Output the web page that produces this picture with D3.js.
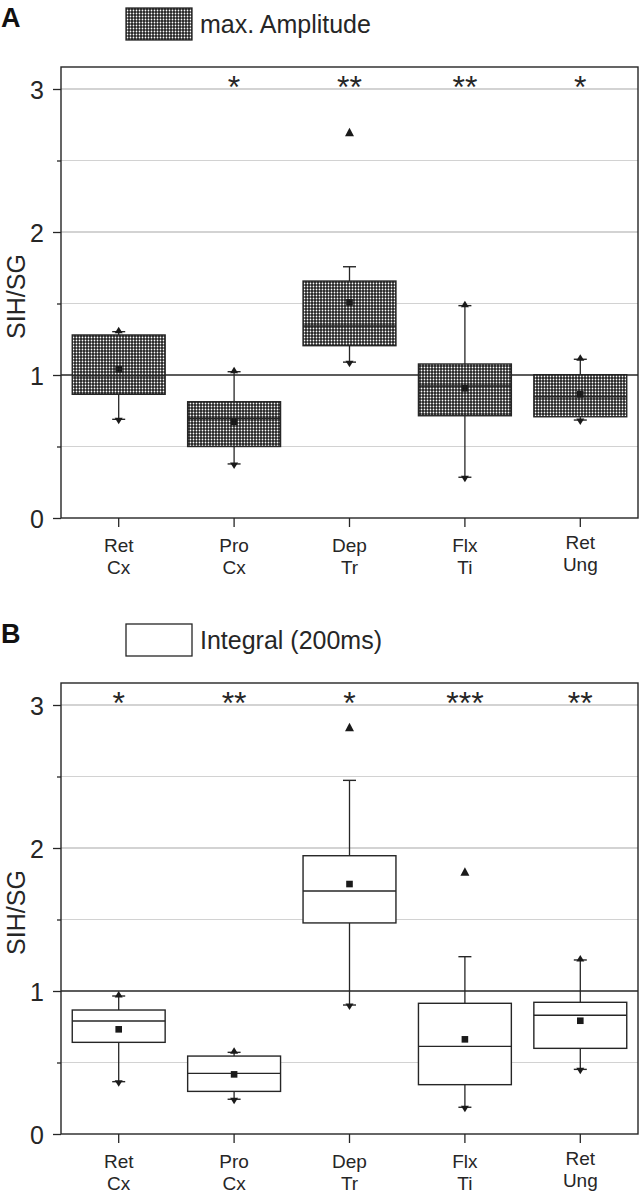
<!DOCTYPE html>
<html>
<head>
<meta charset="utf-8">
<script src="https://cdn.jsdelivr.net/npm/d3@7"></script>
<style>
  html, body { margin: 0; padding: 0; background: #fff; }
  svg { display: block; font-family: "Liberation Sans", Arial, Helvetica, sans-serif; }
</style>
</head>
<body>
<svg id="chart" width="639" height="1195"></svg>
<script>
// ---- data ----
const categories = ["Ret Cx", "Pro Cx", "Dep Tr", "Flx Ti", "Ret Ung"];
const yTicks = [0, 1, 2, 3];
const yMinorTicks = [0.5, 1.5, 2.5];

// Panel A: max. Amplitude
const ampQ1      = [0.865, 0.500, 1.205, 0.715, 0.708];
const ampMedian  = [0.995, 0.697, 1.343, 0.923, 0.848];
const ampQ3      = [1.280, 0.813, 1.657, 1.077, 1.002];
const ampMean    = [1.040, 0.673, 1.508, 0.907, 0.865];
const ampLow     = [0.690, 0.378, 1.090, 0.285, 0.685];
const ampHigh    = [1.303, 1.023, 1.757, 1.485, 1.110];
const ampOutlier = [null, null, 2.697, null, null];
const ampSig     = ["", "*", "**", "**", "*"];

// Panel B: Integral (200ms)
const intQ1      = [0.641, 0.298, 1.476, 0.345, 0.599];
const intMedian  = [0.790, 0.424, 1.699, 0.613, 0.830];
const intQ3      = [0.867, 0.545, 1.946, 0.914, 0.921];
const intMean    = [0.732, 0.417, 1.748, 0.662, 0.792];
const intLow     = [0.366, 0.243, 0.902, 0.187, 0.452];
const intHigh    = [0.965, 0.571, 2.473, 1.240, 1.217];
const intOutlier = [null, null, 2.844, 1.834, null];
const intSig     = ["*", "**", "*", "***", "**"];

const svg = d3.select("#chart");
const ink = "#262626";

// hatch pattern
const defs = svg.append("defs");
const pat = defs.append("pattern").attr("id", "hatch")
  .attr("patternUnits", "userSpaceOnUse").attr("width", 3).attr("height", 3);
pat.append("rect").attr("width", 3).attr("height", 3).attr("fill", "#222");
pat.append("circle").attr("cx", 1.5).attr("cy", 1.5).attr("r", 0.9).attr("fill", "#fff");

const left = 61, right = 638;
const x = d3.scaleBand().domain(categories).range([left, right]).paddingInner(0).paddingOuter(0);
const boxW = x.bandwidth() * 0.805;

function panel(opts) {
  const { top, bottom, letter, letterY, legendText, legendY, fill,
          q1, med, q3, mean, lo, hi, out, sig } = opts;
  const y = d3.scaleLinear().domain([0, 3 + 22 / 143]).range([bottom, top]);
  const g = svg.append("g");

  // grid lines
  g.selectAll(".minor").data(yMinorTicks).join("line")
    .attr("x1", left).attr("x2", right)
    .attr("y1", d => y(d)).attr("y2", d => y(d))
    .attr("stroke", "#d2d2d2").attr("stroke-width", 1.2);
  g.selectAll(".major").data(yTicks.filter(d => d > 1)).join("line")
    .attr("x1", left).attr("x2", right)
    .attr("y1", d => y(d)).attr("y2", d => y(d))
    .attr("stroke", "#a8a8a8").attr("stroke-width", 1.2);

  // y axis
  const yAxis = d3.axisLeft(y).tickValues(yTicks).tickSize(8).tickPadding(0).tickFormat(d3.format("d"));
  const ya = g.append("g").attr("transform", `translate(${left},0)`).call(yAxis);
  ya.select(".domain").remove();
  ya.selectAll(".tick line").attr("stroke", ink).attr("stroke-width", 1.3);
  ya.selectAll(".tick text").attr("x", -17).attr("dy", "0.36em")
    .attr("font-size", 25).attr("fill", ink).attr("font-family", "Liberation Sans, Arial, sans-serif");
  const yMinorAxis = d3.axisLeft(y).tickValues(yMinorTicks).tickSize(4).tickFormat("");
  const ym = g.append("g").attr("transform", `translate(${left},0)`).call(yMinorAxis);
  ym.select(".domain").remove();
  ym.selectAll(".tick line").attr("stroke", ink).attr("stroke-width", 1.3);

  // x axis ticks
  const xAxis = d3.axisBottom(x).tickSize(9).tickFormat("");
  const xa = g.append("g").attr("transform", `translate(0,${bottom})`).call(xAxis);
  xa.select(".domain").remove();
  xa.selectAll(".tick line").attr("stroke", ink).attr("stroke-width", 1.3);
  // two-line labels
  const lab = g.selectAll(".xlab").data(categories).join("text")
    .attr("text-anchor", "middle").attr("font-size", 19).attr("fill", ink)
    .attr("transform", d => `translate(${x(d) + x.bandwidth() / 2},${bottom + 34 - (d === "Ret Ung" ? 3 : 0)})`);
  lab.append("tspan").attr("x", 0).attr("y", 0).text(d => d.split(" ")[0]);
  lab.append("tspan").attr("x", 0).attr("y", 22).text(d => d.split(" ")[1]);

  // y axis title
  g.append("text").attr("transform", `translate(25,${(top + bottom) / 2 + 4}) rotate(-90)`)
    .attr("text-anchor", "middle").attr("font-size", 25).attr("fill", ink).text("SIH/SG");

  // reference line at 1
  g.append("line").attr("x1", left).attr("x2", right)
    .attr("y1", y(1)).attr("y2", y(1)).attr("stroke", ink).attr("stroke-width", 1.4);

  const idx = d3.range(categories.length);
  const cx = i => x(categories[i]) + x.bandwidth() / 2;

  // whiskers
  g.selectAll(".wh").data(idx).join("line")
    .attr("x1", cx).attr("x2", cx)
    .attr("y1", i => y(hi[i])).attr("y2", i => y(q3[i]))
    .attr("stroke", ink).attr("stroke-width", 1.3);
  g.selectAll(".wl").data(idx).join("line")
    .attr("x1", cx).attr("x2", cx)
    .attr("y1", i => y(q1[i])).attr("y2", i => y(lo[i]))
    .attr("stroke", ink).attr("stroke-width", 1.3);

  // boxes
  g.selectAll(".box").data(idx).join("rect")
    .attr("x", i => cx(i) - boxW / 2).attr("width", boxW)
    .attr("y", i => y(q3[i])).attr("height", i => y(q1[i]) - y(q3[i]))
    .attr("fill", fill).attr("stroke", ink).attr("stroke-width", 1.4);
  // medians
  g.selectAll(".med").data(idx).join("line")
    .attr("x1", i => cx(i) - boxW / 2).attr("x2", i => cx(i) + boxW / 2)
    .attr("y1", i => y(med[i])).attr("y2", i => y(med[i]))
    .attr("stroke", ink).attr("stroke-width", 1.4);
  // means
  g.selectAll(".mean").data(idx).join("rect")
    .attr("x", i => cx(i) - 3.3).attr("y", i => y(mean[i]) - 3.3)
    .attr("width", 6.6).attr("height", 6.6).attr("fill", "#1a1a1a");

  // whisker ends
  function endMark(i, v, dir, plain) {
    const X = cx(i), Y = y(v);
    g.append("line").attr("x1", X - 6.5).attr("x2", X + 6.5).attr("y1", Y).attr("y2", Y)
      .attr("stroke", ink).attr("stroke-width", 1.4);
    if (!plain) {
      g.append("path")
        .attr("d", `M${X - 4},${Y - dir * 1.5} L${X + 4},${Y - dir * 1.5} L${X},${Y + dir * 5} Z`)
        .attr("fill", "#1a1a1a");
    }
  }
  idx.forEach(i => {
    endMark(i, hi[i], -1, out[i] != null);
    endMark(i, lo[i], 1, false);
  });

  // outliers
  g.selectAll(".out").data(idx.filter(i => out[i] != null)).join("path")
    .attr("d", i => { const X = cx(i), Y = y(out[i]); return `M${X - 4.5},${Y + 4} L${X + 4.5},${Y + 4} L${X},${Y - 4.5} Z`; })
    .attr("fill", "#1a1a1a");

  // significance stars
  g.selectAll(".sig").data(idx).join("text")
    .attr("x", cx).attr("y", y(3) + 9)
    .attr("text-anchor", "middle").attr("font-size", 32).attr("fill", ink)
    .text(i => sig[i]);

  // frame
  g.append("rect").attr("x", left).attr("y", top)
    .attr("width", right - left).attr("height", bottom - top)
    .attr("fill", "none").attr("stroke", ink).attr("stroke-width", 1.4);

  // panel letter
  svg.append("text").attr("x", 1).attr("y", letterY).attr("font-size", 27)
    .attr("font-weight", "bold").attr("fill", "#111").text(letter);

  // legend
  svg.append("rect").attr("x", 126).attr("y", legendY).attr("width", 66).attr("height", 32)
    .attr("fill", fill).attr("stroke", ink).attr("stroke-width", 1.3);
  svg.append("text").attr("x", 200).attr("y", legendY + 25).attr("font-size", 25)
    .attr("fill", ink).text(legendText);
}

panel({ top: 67, bottom: 518, letter: "A", letterY: 27, legendText: "max. Amplitude", legendY: 8,
  fill: "url(#hatch)", q1: ampQ1, med: ampMedian, q3: ampQ3, mean: ampMean,
  lo: ampLow, hi: ampHigh, out: ampOutlier, sig: ampSig });
panel({ top: 683, bottom: 1134, letter: "B", letterY: 643, legendText: "Integral (200ms)", legendY: 624,
  fill: "#fff", q1: intQ1, med: intMedian, q3: intQ3, mean: intMean,
  lo: intLow, hi: intHigh, out: intOutlier, sig: intSig });
</script>
</body>
</html>
